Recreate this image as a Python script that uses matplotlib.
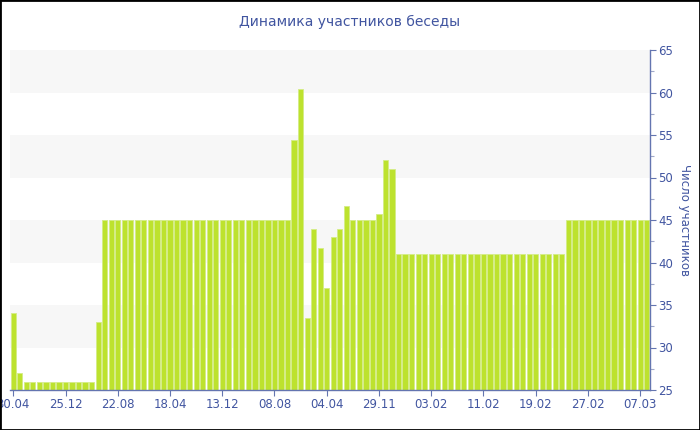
import matplotlib.pyplot as plt
import numpy as np
from matplotlib.patches import Rectangle
from matplotlib.ticker import MultipleLocator

# Values per bar
values = (
    [34.1, 27.0]
    + [26] * 11
    + [33.0]
    + [45] * 29
    + [54.4, 60.4, 33.5, 43.9, 41.7, 37.0, 43.0, 44.0, 46.7]
    + [45] * 4
    + [45.7, 52.1, 51.0]
    + [41] * 26
    + [45] * 13
)
tick_labels = ["30.04", "25.12", "22.08", "18.04", "13.12", "08.08", "04.04",
               "29.11", "03.02", "11.02", "19.02", "27.02", "07.03"]
tick_step = 8

title = "Динамика участников беседы"
ylabel = "Число участников"

text_color = "#4155a0"
axis_color = "#6475b0"
bar_color = "#bde22e"

fig = plt.figure(figsize=(7, 4.3), dpi=100)
ax = fig.add_axes([10 / 700, 40 / 430, 640 / 700, 340 / 430])

x = np.arange(len(values))

# Alternating light bands
for lo in range(30, 65, 10):
    ax.axhspan(lo, lo + 5, color="#f7f7f7", zorder=0, lw=0)

ax.bar(x, values, width=0.8, color=bar_color, edgecolor="#d4ec86",
       linewidth=0.6, zorder=2)

ax.set_xlim(-0.5, len(values) - 0.5)
ax.set_ylim(25, 65)

ax.set_xticks(x[::tick_step])
ax.set_xticklabels(tick_labels)

ax.yaxis.tick_right()
ax.yaxis.set_label_position("right")
ax.yaxis.set_major_locator(MultipleLocator(5))
ax.yaxis.set_minor_locator(MultipleLocator(2.5))

for side in ["top", "left"]:
    ax.spines[side].set_visible(False)
for side in ["bottom", "right"]:
    ax.spines[side].set_color(axis_color)
    ax.spines[side].set_linewidth(1)

ax.tick_params(axis="both", colors=axis_color, labelcolor=text_color,
               labelsize=8.5, length=4, width=0.8, pad=2)
ax.tick_params(axis="y", which="minor", colors="#a0a8c8", length=3, width=0.8)

ax.set_ylabel(ylabel, rotation=270, color=text_color, fontsize=8.5,
              labelpad=13)

fig.text(0.5, 1 - 22 / 430, title, ha="center", va="center",
         color=text_color, fontsize=10)

# Thin black frame round the picture
fig.patches.append(Rectangle((0, 0), 1, 1, transform=fig.transFigure,
                             fill=False, edgecolor="black", linewidth=2))

fig.savefig("out.png", dpi=100)
plt.close(fig)
